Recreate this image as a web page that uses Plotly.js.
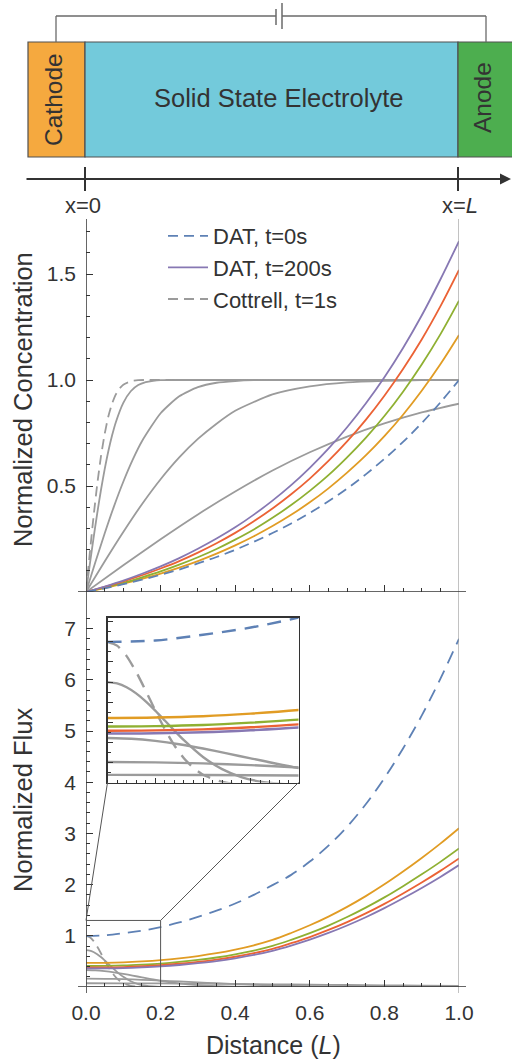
<!DOCTYPE html>
<html><head><meta charset="utf-8">
<script src="https://cdn.plot.ly/plotly-3.0.1.min.js"></script>
<style>html,body{margin:0;padding:0;background:#fff;} #plot{width:512px;height:1061px;}</style>
</head><body><div id="plot"></div>
<script>
// ---------------- data ----------------
const xGrid = [0,0.05,0.1,0.15,0.2,0.25,0.3,0.35,0.4,0.45,0.5,0.55,0.6,0.65,0.7,0.75,0.8,0.85,0.9,0.95,1.0];
// concentration, DAT
const concDAT0   = [0,0.017,0.037,0.058,0.081,0.106,0.135,0.165,0.199,0.237,0.278,0.323,0.373,0.428,0.488,0.555,0.628,0.708,0.797,0.894,1.0];
const concOrange = [0,0.018,0.039,0.062,0.087,0.115,0.146,0.181,0.220,0.263,0.311,0.364,0.423,0.489,0.563,0.644,0.735,0.836,0.949,1.074,1.212];
const concGreen  = [0,0.021,0.043,0.069,0.097,0.129,0.164,0.203,0.247,0.295,0.350,0.410,0.477,0.551,0.635,0.727,0.830,0.945,1.073,1.215,1.374];
const concRed    = [0,0.024,0.050,0.079,0.111,0.146,0.186,0.230,0.279,0.334,0.394,0.461,0.535,0.618,0.710,0.812,0.926,1.052,1.191,1.347,1.519];
const concPurple = [0,0.026,0.054,0.086,0.121,0.160,0.204,0.252,0.305,0.365,0.431,0.504,0.586,0.676,0.777,0.889,1.013,1.151,1.304,1.474,1.655];
// flux, DAT
const fluxDAT0   = [1.00,1.01,1.05,1.10,1.17,1.26,1.37,1.49,1.63,1.80,1.99,2.19,2.45,2.76,3.13,3.57,4.08,4.66,5.30,6.02,6.80];
const fluxOrange = [0.470,0.473,0.482,0.500,0.525,0.560,0.605,0.660,0.730,0.815,0.920,1.055,1.205,1.375,1.565,1.775,2.005,2.255,2.520,2.800,3.100];
const fluxGreen  = [0.410,0.413,0.421,0.437,0.458,0.489,0.528,0.576,0.637,0.711,0.803,0.921,1.052,1.200,1.366,1.550,1.750,1.969,2.200,2.444,2.706];
const fluxRed    = [0.381,0.383,0.390,0.405,0.425,0.454,0.490,0.535,0.591,0.660,0.745,0.855,0.976,1.114,1.268,1.438,1.624,1.827,2.041,2.268,2.511];
const fluxPurple = [0.361,0.363,0.370,0.384,0.403,0.430,0.465,0.507,0.561,0.626,0.707,0.810,0.925,1.056,1.202,1.363,1.540,1.732,1.935,2.150,2.381];
// Cottrell
const cotX1  = [0,0.01,0.02,0.03,0.04,0.05,0.06,0.07,0.08,0.09,0.1,0.12,0.14,0.16,0.2,1];
const cotC1  = [0,0.180,0.352,0.506,0.638,0.745,0.829,0.889,0.932,0.960,0.978,0.994,0.999,1,1,1];
const cotF1  = [1.0,0.974,0.901,0.791,0.660,0.522,0.392,0.279,0.189,0.122,0.074,0.024,0.006,0.001,0,0];
const cotX2  = [0,0.01,0.02,0.03,0.04,0.05,0.06,0.07,0.08,0.1,0.12,0.14,0.16,0.18,0.2,0.25,1];
const cotC2  = [0,0.128,0.252,0.370,0.480,0.578,0.665,0.739,0.801,0.892,0.947,0.976,0.990,0.996,0.999,1,1];
const cotF2  = [0.72,0.711,0.684,0.641,0.585,0.521,0.452,0.382,0.315,0.198,0.113,0.058,0.026,0.011,0.004,0,0];
const cotX10 = [0,0.025,0.05,0.075,0.1,0.125,0.15,0.2,0.25,0.3,0.35,0.4,0.45,0.5,1];
const cotC10 = [0,0.140,0.276,0.404,0.520,0.623,0.711,0.843,0.923,0.966,0.987,0.995,0.999,1,1];
const cotF10 = [0.33,0.325,0.310,0.287,0.257,0.223,0.188,0.121,0.069,0.035,0.015,0.006,0.002,0.001,0];
const cotX40 = [0,0.05,0.1,0.15,0.2,0.25,0.3,0.35,0.4,0.5,0.6,0.7,0.8,0.9,1];
const cotC40 = [0,0.144,0.283,0.414,0.532,0.635,0.722,0.794,0.855,0.932,0.970,0.989,0.996,0.999,1.0];
const cotF40 = [0.163,0.160,0.153,0.141,0.125,0.108,0.090,0.073,0.057,0.032,0.015,0.0065,0.0024,0.0008,0.0002];
const cotX200 = [0,0.1,0.2,0.3,0.4,0.5,0.6,0.7,0.8,0.9,1];
const cotC200 = [0,0.126,0.249,0.366,0.474,0.573,0.659,0.733,0.795,0.847,0.888];
const cotF200 = [0.073,0.072,0.069,0.065,0.060,0.053,0.046,0.039,0.033,0.026,0.021];

const legendNames = ['DAT, t=0s','DAT, t=200s','Cottrell, t=1s'];
const xTickVals = [0,0.2,0.4,0.6,0.8,1.0];
const xTickText = ['0.0','0.2','0.4','0.6','0.8','1.0'];
const cTickVals = [0.5,1.0,1.5];
const cTickText = ['0.5','1.0','1.5'];
const fTickVals = [1,2,3,4,5,6,7];

// ---------------- styling ----------------
const W=512,H=1061;
const PX = p => p/W, PY = p => 1-p/H;
const FONT = 'Liberation Sans, Arial, Helvetica, sans-serif';
const TXT = '#333333';
const C = {blue:'#5E81B5', orange:'#E19C24', green:'#8FB032', red:'#EB6235', purple:'#8778B3', gray:'#9b9b9b'};

const traces = [];
function addSet(xa, ya, w, inset){
  const sl = (xa==='x');
  const cott = [
    [cotX1, true], [cotX2, false], [cotX10, false], [cotX40, false], [cotX200, false]
  ];
  const isConc = (ya==='y');
  const cotY = isConc ? [cotC1,cotC2,cotC10,cotC40,cotC200] : [cotF1,cotF2,cotF10,cotF40,cotF200];
  cott.forEach((c,i)=>{
    traces.push({x:c[0], y:cotY[i], xaxis:xa, yaxis:ya, mode:'lines', type:'scatter',
      line:{color:C.gray, width:w, shape:'spline', smoothing:0.6, dash: c[1] ? (inset?'14px,9px':'10px,6px') : 'solid'},
      name: c[1] ? legendNames[2] : '', showlegend: sl && c[1], legendrank:3, hoverinfo:'skip'});
  });
  const dat = isConc ? [[concOrange,C.orange],[concGreen,C.green],[concRed,C.red],[concPurple,C.purple]]
                     : [[fluxOrange,C.orange],[fluxGreen,C.green],[fluxRed,C.red],[fluxPurple,C.purple]];
  dat.forEach((d,i)=>{
    traces.push({x:xGrid, y:d[0], xaxis:xa, yaxis:ya, mode:'lines', type:'scatter',
      line:{color:d[1], width:w, shape:'spline'},
      name: i===3 ? legendNames[1] : '', showlegend: sl && i===3, legendrank:2, hoverinfo:'skip'});
  });
  traces.push({x:xGrid, y: isConc?concDAT0:fluxDAT0, xaxis:xa, yaxis:ya, mode:'lines', type:'scatter',
    line:{color:C.blue, width:w, shape:'spline', dash: inset?'14px,9px':(isConc?'10px,6px':'13px,8px')},
    name: legendNames[0], showlegend: sl, legendrank:1, hoverinfo:'skip'});
}
addSet('x','y',1.8,false);
addSet('x2','y2',1.8,false);
addSet('x3','y3',2.4,true);

const xDom = [PX(86), PX(459)];
const cDom = [PY(592), PY(220)];
const fDom = [PY(987), PY(612)];
const cRange = [0, (592-220)/212];
const fRange = [0, (987-612)/51.2];
const iXDom = [PX(107.5), PX(298.5)];
const iYDom = [PY(782.5), PY(617.5)];
const iXRange = [0, 0.2];
const iYRange = [0.02, 1.17];

const tickFont = {family:FONT, size:21, color:TXT};
function xAx(dom, anchor, labels){
  return {domain:dom, anchor:anchor, range:[0,1], showline:false, zeroline:false, showgrid:false,
    ticks:'inside', ticklen:7, tickwidth:1, tickcolor:TXT, tickvals:xTickVals, ticktext:xTickText,
    showticklabels:labels, tickfont:tickFont, ticklabelstandoff:11,
    minor:{ticks:'inside', ticklen:4, tickwidth:1, tickcolor:TXT, dtick:0.05, tick0:0, showgrid:false}};
}
function yAx(dom, anchor, range, vals, text, mdt){
  return {domain:dom, anchor:anchor, range:range, showline:false, zeroline:false, showgrid:false,
    ticks:'inside', ticklen:7, tickwidth:1, tickcolor:TXT, tickvals:vals, ticktext:text, tickfont:tickFont,
    ticklabelstandoff:9,
    minor:{ticks:'inside', ticklen:4, tickwidth:1, tickcolor:TXT, dtick:mdt, tick0:0, showgrid:false}};
}

const shapes = [];
const annotations = [];
// --- cell diagram ---
function rect(x0,x1,y0,y1,fill){
  shapes.push({type:'rect', xref:'paper', yref:'paper', x0:PX(x0), x1:PX(x1), y0:PY(y1), y1:PY(y0),
    fillcolor:fill, line:{color:'#505050', width:1.2}, layer:'above'});
}
rect(28,85,42,157,'#F5A93F');
rect(85,458,42,157,'#73CADB');
rect(458,520,42,157,'#4DAE4F');
function seg(x0,y0,x1,y1,color,width){
  shapes.push({type:'line', xref:'paper', yref:'paper', x0:PX(x0), y0:PY(y0), x1:PX(x1), y1:PY(y1),
    line:{color:color, width:width}, layer:'above'});
}
const WIRE = '#6a6a6a';
seg(56,42,56,16,WIRE,1.3); seg(56,16,276,16,WIRE,1.3);
seg(282,16,486,16,WIRE,1.3); seg(486,16,486,42,WIRE,1.3);
seg(276,9,276,25,WIRE,1.5); seg(282,3,282,29,WIRE,1.5);
// axis arrow
annotations.push({xref:'paper', yref:'paper', x:PX(511), y:PY(179), ax:-486, ay:0, axref:'pixel', ayref:'pixel',
  text:'', showarrow:true, arrowhead:2, arrowsize:1.1, arrowwidth:2, arrowcolor:'#333'});
seg(85,167,85,191,'#333',2); seg(458,167,458,191,'#333',2);
function txt(x,y,t,size,angle){
  annotations.push({xref:'paper', yref:'paper', x:PX(x), y:PY(y), text:t, showarrow:false,
    xanchor:'center', yanchor:'middle', textangle:angle||0, font:{family:FONT, size:size, color:TXT}});
}
txt(278,98,'Solid State Electrolyte',25.5);
txt(54,100,'Cathode',24.5,-90);
txt(482,98,'Anode',24.5,-90);
txt(83,206,'x=0',22);
txt(460,206,'x=<i>L</i>',22);
// axis titles
txt(23,400,'Normalized Concentration',25.5,-90);
txt(23,800,'Normalized Flux',25.5,-90);
txt(273,1045,'Distance (<i>L</i>)',25);

// frame lines
shapes.push({type:'line', xref:'x', yref:'paper', x0:0, x1:0, y0:PY(993), y1:PY(219), line:{color:'#333', width:1.5}});
shapes.push({type:'line', xref:'x', yref:'paper', x0:1, x1:1, y0:PY(993), y1:PY(219), line:{color:'#9a9a9a', width:1.2}});
shapes.push({type:'line', xref:'paper', yref:'y', x0:PX(78), x1:PX(466), y0:0, y1:0, line:{color:'#333', width:1.5}});
shapes.push({type:'line', xref:'paper', yref:'y2', x0:PX(78), x1:PX(466), y0:0, y1:0, line:{color:'#333', width:1.5}});
// zoom box in flux plot and connectors
const boxX = [0, 0.2], boxY = [0, 1.3];
shapes.push({type:'rect', xref:'x2', yref:'y2', x0:boxX[0], x1:boxX[1], y0:boxY[0], y1:boxY[1], line:{color:'#555', width:1}});
function d2p(v, dom, rng){ return dom[0] + (v-rng[0])/(rng[1]-rng[0])*(dom[1]-dom[0]); }
[[boxX[0], iXRange[0]],[boxX[1], iXRange[1]]].forEach(p=>{
  shapes.push({type:'line', xref:'paper', yref:'paper',
    x0:d2p(p[0], xDom, [0,1]), y0:d2p(boxY[1], fDom, fRange),
    x1:d2p(p[1], iXDom, iXRange), y1:iYDom[0], line:{color:'#555', width:1}});
});

const layout = {
  width:W, height:H, margin:{l:0,r:0,t:0,b:0}, paper_bgcolor:'#fff', plot_bgcolor:'rgba(0,0,0,0)',
  font:{family:FONT, color:TXT},
  showlegend:true,
  legend:{x:PX(163), y:PY(215), xanchor:'left', yanchor:'top', bgcolor:'rgba(0,0,0,0)', borderwidth:0,
    font:{family:FONT, size:22, color:TXT}, itemwidth:40, tracegroupgap:0, traceorder:'normal'},
  xaxis: xAx(xDom,'y',false),
  yaxis: yAx(cDom,'x',cRange,cTickVals,cTickText,0.1),
  xaxis2: xAx(xDom,'y2',true),
  yaxis2: yAx(fDom,'x2',fRange,fTickVals,fTickVals.map(String),0.2),
  xaxis3: {domain:iXDom, anchor:'y3', range:iXRange, showline:true, mirror:true, linecolor:'#333', linewidth:1.2,
    zeroline:false, showgrid:false, ticks:'inside', ticklen:5, tickcolor:'#333', dtick:0.05, tick0:0, showticklabels:false,
    minor:{ticks:'inside', ticklen:3, tickcolor:'#333', dtick:0.01, tick0:0}},
  yaxis3: {domain:iYDom, anchor:'x3', range:iYRange, showline:true, mirror:true, linecolor:'#333', linewidth:1.2,
    zeroline:false, showgrid:false, ticks:'inside', ticklen:5, tickcolor:'#333', dtick:0.14, tick0:0.02, showticklabels:false,
    minor:{ticks:'inside', ticklen:3, tickcolor:'#333', dtick:0.07, tick0:0.02}},
  shapes:shapes, annotations:annotations
};
Plotly.newPlot('plot', traces, layout, {staticPlot:true, displayModeBar:false});
</script></body></html>
